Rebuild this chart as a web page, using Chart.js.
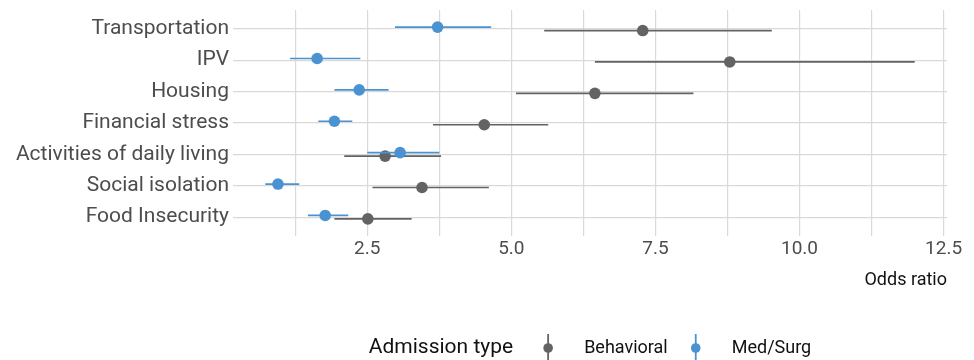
<!DOCTYPE html>
<html>
<head>
<meta charset="utf-8">
<script src="https://cdn.jsdelivr.net/npm/chart.js@4/dist/chart.umd.min.js"></script>
<style>
  html, body { margin: 0; padding: 0; background: #fff; }
  #wrap { width: 974px; height: 360px; position: relative; }
</style>
</head>
<body>
<div id="wrap"><canvas id="myChart"></canvas></div>
<script>
// Data
const categories = ['Transportation', 'IPV', 'Housing', 'Financial stress',
    'Activities of daily living', 'Social isolation', 'Food Insecurity'];

const behavioralOR   = [7.28, 8.79, 6.45, 4.53, 2.81, 3.45, 2.51];
const behavioralLow  = [5.57, 6.45, 5.08, 3.64, 2.10, 2.59, 1.93];
const behavioralHigh = [9.52, 12.00, 8.16, 5.64, 3.78, 4.61, 3.27];

const medSurgOR   = [3.72, 1.63, 2.36, 1.93, 3.07, 0.95, 1.77];
const medSurgLow  = [2.98, 1.16, 1.93, 1.65, 2.50, 0.73, 1.47];
const medSurgHigh = [4.65, 2.38, 2.87, 2.24, 3.75, 1.32, 2.17];

const xTicks = [1.25, 2.5, 3.75, 5, 6.25, 7.5, 8.75, 10, 11.25, 12.5];
const seriesNames = ['Behavioral', 'Med/Surg'];

// Styles
const GREY = '#636363';
const BLUE = '#4b92d1';
const GRID = '#d9d9d9';
const TEXT = '#4d4d4d';
const DODGE = 0.055;

const points = (vals, off) => vals.map((v, i) => ({ x: v, y: i + off }));
const ranges = (lo, hi, off) => {
    const out = [];
    lo.forEach((l, i) => {
        out.push({ x: l, y: i + off }, { x: hi[i], y: i + off }, { x: null, y: null });
    });
    return out;
};

// Legend drawn inline like ggplot: title then keys
const inlineLegend = {
    id: 'inlineLegend',
    afterDraw(chart) {
        const { ctx, chartArea } = chart;
        const y = 348;
        ctx.save();
        ctx.textBaseline = 'middle';
        ctx.font = '21px Roboto';
        const title = 'Admission type';
        const tw = ctx.measureText(title).width;
        ctx.font = '18px Roboto';
        const w1 = ctx.measureText(seriesNames[0]).width;
        const w2 = ctx.measureText(seriesNames[1]).width;
        const total = tw + 35 + 36 + w1 + 28 + 36 + w2;
        let x = (chartArea.left + chartArea.right) / 2 - total / 2;

        ctx.fillStyle = '#111';
        ctx.font = '21px Roboto';
        ctx.textAlign = 'left';
        ctx.fillText(title, x, y);
        x += tw + 35;

        const key = (cx, color, label, w) => {
            ctx.strokeStyle = color;
            ctx.lineWidth = 1.8;
            ctx.beginPath();
            ctx.moveTo(cx, y - 14);
            ctx.lineTo(cx, y + 14);
            ctx.stroke();
            ctx.fillStyle = color;
            ctx.beginPath();
            ctx.arc(cx, y, 4.8, 0, Math.PI * 2);
            ctx.fill();
            ctx.fillStyle = '#111';
            ctx.font = '18px Roboto';
            ctx.fillText(label, cx + 36, y);
            return cx + 36 + w;
        };
        x = key(x, GREY, seriesNames[0], w1) + 28;
        key(x, BLUE, seriesNames[1], w2);
        ctx.restore();
    }
};

const ctx = document.getElementById('myChart').getContext('2d');

const myChart = new Chart(ctx, {
    type: 'scatter',
    data: {
        datasets: [
            {
                label: seriesNames[1],
                data: points(medSurgOR, -DODGE),
                backgroundColor: BLUE,
                borderWidth: 0,
                pointRadius: 5.8,
                order: 1,
            },
            {
                label: seriesNames[1] + ' CI',
                data: ranges(medSurgLow, medSurgHigh, -DODGE),
                showLine: true,
                spanGaps: false,
                borderColor: BLUE,
                borderWidth: 1.7,
                pointRadius: 0,
                order: 2,
            },
            {
                label: seriesNames[0],
                data: points(behavioralOR, DODGE),
                backgroundColor: GREY,
                borderWidth: 0,
                pointRadius: 5.8,
                order: 3,
            },
            {
                label: seriesNames[0] + ' CI',
                data: ranges(behavioralLow, behavioralHigh, DODGE),
                showLine: true,
                spanGaps: false,
                borderColor: GREY,
                borderWidth: 1.7,
                pointRadius: 0,
                order: 4,
            },
        ],
    },
    options: {
        responsive: true,
        maintainAspectRatio: false,
        animation: false,
        events: [],
        layout: { padding: { left: 0, right: 27, top: 10, bottom: 68 } },
        plugins: {
            legend: { display: false },
            tooltip: { enabled: false },
        },
        scales: {
            x: {
                type: 'linear',
                min: 0.17,
                max: 12.56,
                afterBuildTicks: (scale) => {
                    scale.ticks = xTicks.map(v => ({ value: v }));
                },
                afterFit: (scale) => {
                    scale.height = 56;
                    scale.paddingLeft = 0;
                    scale.paddingRight = 0;
                },
                border: { display: false },
                grid: { color: GRID, lineWidth: 1.2, drawTicks: false },
                ticks: {
                    autoSkip: false,
                    maxRotation: 0,
                    padding: 2,
                    color: TEXT,
                    font: { family: 'Roboto', size: 19 },
                    callback: (v) => (Math.abs(v / 2.5 - Math.round(v / 2.5)) < 1e-6 ? v.toFixed(1) : ''),
                },
                title: {
                    display: true,
                    text: 'Odds ratio',
                    align: 'end',
                    color: '#111',
                    font: { family: 'Roboto', size: 18 },
                    padding: { top: 0, bottom: 1 },
                },
            },
            y: {
                type: 'linear',
                reverse: true,
                min: -0.6,
                max: categories.length - 0.4,
                afterBuildTicks: (scale) => {
                    scale.ticks = categories.map((c, i) => ({ value: i }));
                },
                afterFit: (scale) => {
                    scale.width = 233;
                    scale.paddingTop = 0;
                    scale.paddingBottom = 0;
                },
                border: { display: false },
                grid: { color: GRID, lineWidth: 1.2, drawTicks: false },
                ticks: {
                    autoSkip: false,
                    padding: 4,
                    color: TEXT,
                    font: { family: 'Roboto', size: 21 },
                    callback: (v) => categories[v] ?? '',
                },
            },
        },
    },
    plugins: [inlineLegend],
});
</script>
</body>
</html>
